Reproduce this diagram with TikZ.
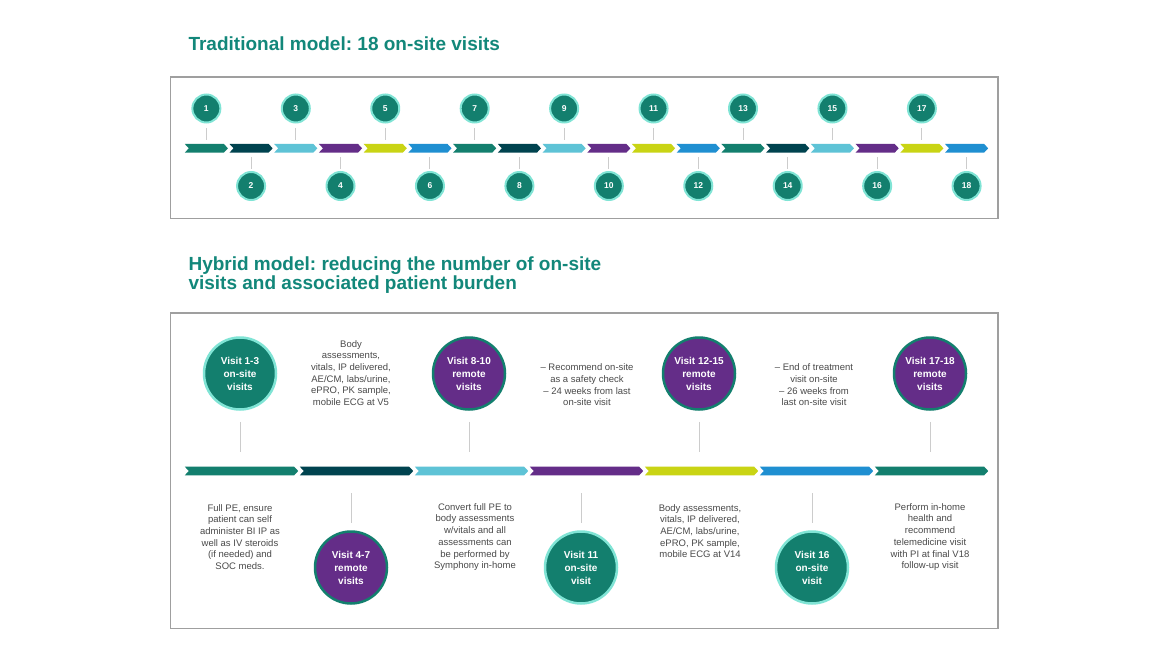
\documentclass[tikz,border=0pt]{standalone}
\usepackage{fontspec}
\setmainfont{Liberation Sans}
\frenchspacing

\definecolor{cteal}{HTML}{137F6E}
\definecolor{cdark}{HTML}{00434F}
\definecolor{clight}{HTML}{5EC3D6}
\definecolor{cpurple}{HTML}{642D88}
\definecolor{clime}{HTML}{C9D414}
\definecolor{cblue}{HTML}{1F8FD1}
\definecolor{cglow}{HTML}{80E4D5}
\definecolor{ctitle}{HTML}{12877A}
\definecolor{ctext}{HTML}{4A4A4A}

\tikzset{
    frame/.style={draw=gray!75, line width=1.1pt},
    title/.style={anchor=base west, text=ctitle, font=\bfseries\fontsize{19}{19.5}\selectfont},
    smallvisit/.style={circle, fill=cteal, draw=cglow, line width=2pt, minimum size=28pt, inner sep=0pt, text=white, font=\bfseries\fontsize{8.5}{9}\selectfont},
    onsite/.style={circle, fill=cteal, draw=cglow, line width=2.5pt, minimum size=72pt, inner sep=0pt, text=white, align=center, font=\bfseries\fontsize{10}{13}\selectfont},
    remote/.style={onsite, fill=cpurple, draw=cteal},
    stem/.style={draw=black!20, line width=1pt},
    note/.style={align=center, text=ctext, inner sep=0pt, font=\fontsize{9.5}{11.7}\selectfont}
}

% one arrow piece of a timeline: from x #1 to x #2 at height #3
\newcommand{\chevseg}[4]{%
    \pgfmathsetmacro{\xa}{#1}\pgfmathsetmacro{\xb}{#2}%
    \fill[#4] ({\xa+0.8},{#3-4.3}) -- ({\xb-4.8},{#3-4.3}) -- ({\xb-0.8},#3)
        -- ({\xb-4.8},{#3+4.3}) -- ({\xa+0.8},{#3+4.3}) -- ({\xa+4.8},#3) -- cycle;}

\begin{document}
\begin{tikzpicture}[x=1pt, y=-1pt]
    \useasboundingbox[fill=white] (0,0) rectangle (1170,658);

    % traditional model
    \node[title] (t1) at (185,50.7) {Traditional model: 18 on-site visits};
    \draw[frame] (170.5,77) rectangle (998,218.5);
    \foreach \col [count=\i from 0] in {cteal,cdark,clight,cpurple,clime,cblue,cteal,cdark,clight,cpurple,clime,cblue,cteal,cdark,clight,cpurple,clime,cblue}
        \chevseg{184+44.72*\i}{184+44.72*(\i+1)}{148.3}{\col};
    \foreach \n in {1,3,...,17} {
        \node[smallvisit] (v\n) at ({184+44.72*(\n-0.5)},108.5) {\n};
        \draw[stem] (v\n.south) ++(0,5) -- ++(0,11.5);
    }
    \foreach \n in {2,4,...,18} {
        \node[smallvisit] (v\n) at ({184+44.72*(\n-0.5)},186) {\n};
        \draw[stem] (v\n.north) ++(0,-2.5) -- ++(0,-11.5);
    }

    % hybrid model
    \node[title] (t2) at (185,270) {Hybrid model: reducing the number of on-site};
    \node[title] (t3) at (185,289.5) {visits and associated patient burden};
    \draw[frame] (170.5,313) rectangle (998,628.5);
    \foreach \col [count=\i from 0] in {cteal,cdark,clight,cpurple,clime,cblue,cteal}
        \chevseg{184+115*\i}{184+115*(\i+1)}{471}{\col};

    \node[onsite] (h13) at (240,373.5) {Visit 1-3\\on-site\\visits};
    \node[remote] (h810) at (469,373.5) {Visit 8-10\\remote\\visits};
    \node[remote] (h1215) at (699,373.5) {Visit 12-15\\remote\\visits};
    \node[remote] (h1718) at (930,373.5) {Visit 17-18\\remote\\visits};
    \foreach \h in {h13,h810,h1215,h1718}
        \draw[stem] (\h.south) ++(0,11) -- ++(0,30);

    \node[remote] (h47) at (351,567.5) {Visit 4-7\\remote\\visits};
    \node[onsite] (h11) at (581,567.5) {Visit 11\\on-site\\visit};
    \node[onsite] (h16) at (812,567.5) {Visit 16\\on-site\\visit};
    \foreach \h in {h47,h11,h16}
        \draw[stem] (\h.north) ++(0,-7.5) -- ++(0,-30);

    % notes above the line
    \node[note] (n1) at (351,373) {Body\\assessments,\\vitals, IP delivered,\\AE/CM, labs/urine,\\ePRO, PK sample,\\mobile ECG at V5};
    \node[note] (n2) at (587,385) {– Recommend on-site\\as a safety check\\– 24 weeks from last\\on-site visit};
    \node[note] (n3) at (814,385) {– End of treatment\\visit on-site\\– 26 weeks from\\last on-site visit};

    % notes below the line
    \node[note] (n4) at (240,537) {Full PE, ensure\\patient can self\\administer BI IP as\\well as IV steroids\\(if needed) and\\SOC meds.};
    \node[note] (n5) at (475,537) {Convert full PE to\\body assessments\\w/vitals and all\\assessments can\\be performed by\\Symphony in-home};
    \node[note] (n6) at (700,531) {Body assessments,\\vitals, IP delivered,\\AE/CM, labs/urine,\\ePRO, PK sample,\\mobile ECG at V14};
    \node[note] (n7) at (930,537) {Perform in-home\\health and\\recommend\\telemedicine visit\\with PI at final V18\\follow-up visit};
\end{tikzpicture}
\end{document}
